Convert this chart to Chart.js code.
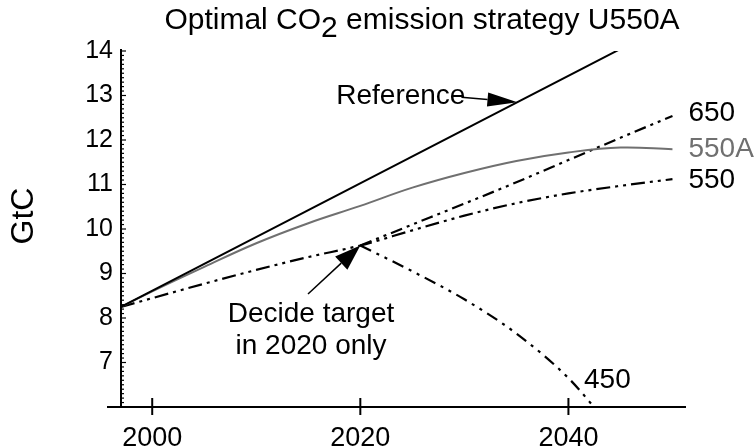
<!DOCTYPE html>
<html lang="en">
<head>
<meta charset="UTF-8" />
<title>Optimal CO2 emission strategy U550A</title>
<script src="https://cdn.jsdelivr.net/npm/chart.js"></script>
<style>
  html, body { margin: 0; padding: 0; background: #fff; }
  #wrap { width: 755px; height: 448px; }
</style>
</head>
<body>
<div id="wrap"><canvas id="co2Chart" width="755" height="448"></canvas></div>
<script>
  // values (GtC)
  const refYears = [1997, 2050];
  const refVals = [8.25, 14.65];

  const u550aYears = [1997, 2000, 2005, 2010, 2015, 2020, 2025, 2030, 2035, 2040, 2045, 2050];
  const u550aVals = [8.25, 8.60, 9.15, 9.68, 10.13, 10.52, 10.93, 11.26, 11.53, 11.72, 11.83, 11.79];

  // common path until the decision in 2020
  const preYears = [1997, 2005, 2010, 2015, 2020];
  const preVals = [8.25, 8.77, 9.08, 9.37, 9.63];

  const postYears = [2020, 2025, 2030, 2035, 2040, 2045, 2050];
  const s550Vals = [9.63, 9.97, 10.30, 10.58, 10.80, 10.97, 11.12];
  const s650Vals = [9.63, 10.10, 10.57, 11.05, 11.55, 12.05, 12.54];

  const s450Years = [2020, 2025, 2030, 2035, 2040, 2043];
  const s450Vals = [9.63, 9.05, 8.42, 7.65, 6.65, 5.85];

  const xTicks = [2000, 2020, 2040];

  const pts = (xs, ys) => xs.map((x, i) => ({ x, y: ys[i] }));
  const FONT = '"Liberation Sans", Arial, Helvetica, sans-serif';
  const GRAY = '#707070';

  function arrow(ctx, x0, y0, x1, y1, len, half) {
    const a = Math.atan2(y1 - y0, x1 - x0);
    const bx = x1 - len * Math.cos(a), by = y1 - len * Math.sin(a);
    ctx.beginPath();
    ctx.moveTo(x0, y0);
    ctx.lineTo(bx, by);
    ctx.stroke();
    ctx.beginPath();
    ctx.moveTo(x1, y1);
    ctx.lineTo(bx + half * Math.sin(a), by - half * Math.cos(a));
    ctx.lineTo(bx - half * Math.sin(a), by + half * Math.cos(a));
    ctx.closePath();
    ctx.fill();
  }

  const decorations = {
    id: 'decorations',
    afterDraw(chart) {
      const { ctx, chartArea, scales: { x, y } } = chart;
      ctx.save();
      ctx.strokeStyle = '#000';
      ctx.fillStyle = '#000';
      ctx.lineWidth = 2;

      // axes
      const x0 = x.getPixelForValue(1997);
      const yb = y.getPixelForValue(6);
      ctx.beginPath();
      ctx.moveTo(x0 - 14, yb);
      ctx.lineTo(chartArea.right, yb);
      ctx.moveTo(x0, yb);
      ctx.lineTo(x0, y.getPixelForValue(14) - 2);
      ctx.stroke();

      // x ticks crossing the axis
      xTicks.forEach(v => {
        const px = x.getPixelForValue(v);
        ctx.beginPath();
        ctx.moveTo(px, yb - 9);
        ctx.lineTo(px, yb + 8);
        ctx.stroke();
      });

      // y minor / major ticks
      ctx.lineWidth = 1.2;
      for (let i = 61; i <= 140; i++) {
        const py = y.getPixelForValue(i / 10);
        const major = i % 10 === 0;
        ctx.beginPath();
        ctx.moveTo(x0 - (major ? 1 : 0), py);
        ctx.lineTo(x0 + (major ? 5 : 3), py);
        ctx.stroke();
      }

      // title with subscript
      ctx.font = '30px ' + FONT;
      ctx.textBaseline = 'alphabetic';
      const p1 = 'Optimal CO', p2 = '2', p3 = ' emission strategy U550A';
      const w1 = ctx.measureText(p1).width, w2 = ctx.measureText(p2).width, w3 = ctx.measureText(p3).width;
      let tx = 422 - (w1 + w2 + w3) / 2;
      ctx.fillText(p1, tx, 29);
      ctx.fillText(p2, tx + w1, 37);
      ctx.fillText(p3, tx + w1 + w2, 29);

      // y axis title
      ctx.save();
      ctx.translate(24, 216);
      ctx.rotate(-Math.PI / 2);
      ctx.textAlign = 'center';
      ctx.textBaseline = 'middle';
      ctx.font = '32px ' + FONT;
      ctx.fillText('GtC', 0, 0);
      ctx.restore();

      // series labels
      ctx.font = '28px ' + FONT;
      ctx.textBaseline = 'middle';
      ctx.textAlign = 'left';
      const lx = x.getPixelForValue(2050) + 16;
      ctx.fillText('650', lx, y.getPixelForValue(12.54) - 3);
      ctx.fillStyle = GRAY;
      ctx.fillText('550A', lx, y.getPixelForValue(11.78) - 1);
      ctx.fillStyle = '#000';
      ctx.fillText('550', lx, y.getPixelForValue(11.12) + 1);
      ctx.fillText('450', x.getPixelForValue(2041.5), y.getPixelForValue(6.6));

      // Reference label + arrow
      ctx.textAlign = 'right';
      const rTipX = x.getPixelForValue(2035.1), rTipY = y.getPixelForValue(12.85);
      ctx.fillText('Reference', rTipX - 52, rTipY - 6);
      ctx.lineWidth = 1.5;
      arrow(ctx, rTipX - 56, rTipY - 5, rTipX, rTipY, 30, 7);

      // Decide target label + arrow
      ctx.textAlign = 'center';
      ctx.fillText('Decide target', 311, 314);
      ctx.fillText('in 2020 only', 311, 346);
      const dTipX = x.getPixelForValue(2020), dTipY = y.getPixelForValue(9.63);
      arrow(ctx, 308, 294, dTipX, dTipY, 26, 9);

      ctx.restore();
    }
  };

  new Chart(document.getElementById('co2Chart'), {
    type: 'line',
    data: {
      datasets: [
        {
          label: 'Reference',
          data: pts(refYears, refVals),
          borderColor: '#000',
          borderWidth: 2
        },
        {
          label: '550A',
          data: pts(u550aYears, u550aVals),
          borderColor: GRAY,
          borderWidth: 2,
          tension: 0.4
        },
        {
          label: '550',
          data: pts(preYears, preVals).concat(pts(postYears.slice(1), s550Vals.slice(1))),
          borderColor: '#000',
          borderWidth: 2.2,
          borderDash: [14, 5, 3, 5, 3, 5],
          cubicInterpolationMode: 'monotone'
        },
        {
          label: '650',
          data: pts(postYears, s650Vals),
          borderColor: '#000',
          borderWidth: 2.2,
          borderDash: [12, 5, 3, 5, 3, 5],
          cubicInterpolationMode: 'monotone'
        },
        {
          label: '450',
          data: pts(s450Years, s450Vals),
          borderColor: '#000',
          borderWidth: 2.2,
          borderDash: [12, 6, 3, 6, 3, 6],
          cubicInterpolationMode: 'monotone'
        }
      ]
    },
    options: {
      responsive: false,
      animation: false,
      layout: { padding: { left: 0, right: 69, top: 51, bottom: 0 } },
      elements: { point: { radius: 0 } },
      plugins: {
        legend: { display: false },
        tooltip: { enabled: false }
      },
      scales: {
        x: {
          type: 'linear',
          min: 1997,
          max: 2051.3,
          afterFit: s => { s.height = 41; },
          afterBuildTicks: s => { s.ticks = xTicks.map(v => ({ value: v })); },
          grid: { display: false, drawTicks: false },
          border: { display: false },
          ticks: {
            padding: 15,
            color: '#000',
            font: { family: FONT, size: 27 },
            maxRotation: 0,
            callback: v => String(v)
          }
        },
        y: {
          min: 6,
          max: 14,
          afterFit: s => { s.width = 121; },
          grid: { display: false, drawTicks: false },
          border: { display: false },
          ticks: {
            stepSize: 1,
            padding: 8,
            color: '#000',
            font: { family: FONT, size: 25 },
            callback: v => (v === 6 ? '' : String(v))
          }
        }
      }
    },
    plugins: [decorations]
  });
</script>
</body>
</html>
